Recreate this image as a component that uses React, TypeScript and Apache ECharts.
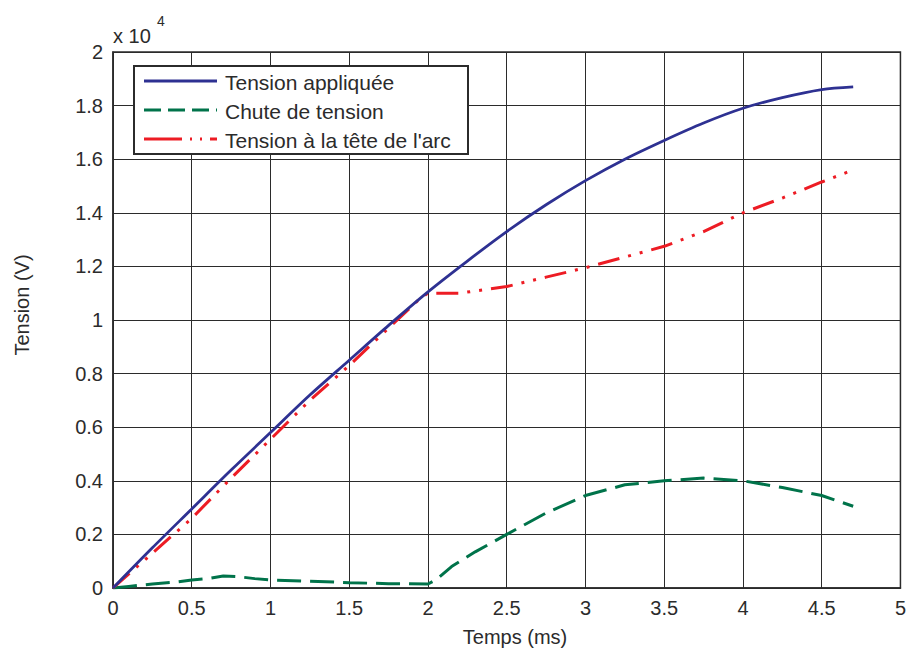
import React, { useEffect, useRef } from "react";
import * as echarts from "echarts";

const xTicks = [0, 0.5, 1, 1.5, 2, 2.5, 3, 3.5, 4, 4.5, 5];
const yTicks = [0, 0.2, 0.4, 0.6, 0.8, 1, 1.2, 1.4, 1.6, 1.8, 2];

const seriesNames = ["Tension appliquée", "Chute de tension", "Tension à la tête de l'arc"];

const tApplied = [0, 0.25, 0.5, 0.75, 1, 1.25, 1.5, 1.75, 2, 2.25, 2.5, 2.75, 3, 3.25, 3.5, 3.75, 4, 4.25, 4.5, 4.7];
const vApplied = [0, 0.15, 0.295, 0.44, 0.58, 0.72, 0.85, 0.98, 1.105, 1.22, 1.33, 1.43, 1.52, 1.6, 1.67, 1.735, 1.79, 1.83, 1.86, 1.87];

const tDrop = [0, 0.1, 0.25, 0.4, 0.5, 0.6, 0.7, 0.8, 0.9, 1.0, 1.25, 1.5, 1.75, 2.0, 2.05, 2.15, 2.3, 2.5, 2.75, 3.0, 3.25, 3.5, 3.75, 4.0, 4.25, 4.5, 4.7];
const vDrop = [0, 0.006, 0.015, 0.022, 0.03, 0.035, 0.045, 0.042, 0.035, 0.03, 0.025, 0.02, 0.016, 0.015, 0.03, 0.08, 0.135, 0.2, 0.28, 0.345, 0.385, 0.4, 0.41, 0.4, 0.375, 0.345, 0.305];

const tArc = [0, 0.25, 0.5, 0.75, 1, 1.25, 1.5, 1.75, 1.95, 2.0, 2.1, 2.2, 2.5, 2.75, 3.0, 3.25, 3.5, 3.75, 4.0, 4.25, 4.5, 4.7];
const vArc = [0, 0.13, 0.26, 0.41, 0.555, 0.7, 0.83, 0.97, 1.08, 1.1, 1.1, 1.1, 1.125, 1.16, 1.195, 1.235, 1.275, 1.33, 1.4, 1.455, 1.515, 1.56];

const FONT = "'Liberation Sans', Arial, Helvetica, sans-serif";
const TXT = "#2b2b2b";
const BLUE = "#2e3192";
const GREEN = "#00734a";
const RED = "#ed1c24";
const GREEN_DASH = [24, 9];
const RED_DASH = [22, 9, 3, 9, 3, 9];

function pairs(t: number[], v: number[]) {
  return t.map((x, i) => [x, v[i]]);
}

export default function App() {
  const ref = useRef<HTMLDivElement>(null);
  useEffect(() => {
    if (!ref.current) return;
    const chart = echarts.init(ref.current, null, { renderer: "svg" });
    const legendRows = [81, 110, 139];
    const legendStyles = [
      { stroke: BLUE, lineWidth: 2.8 },
      { stroke: GREEN, lineWidth: 3, lineDash: [17, 7] },
      { stroke: RED, lineWidth: 3, lineDash: [38, 8, 2, 8, 2, 8] },
    ];
    const legendGraphics: any[] = [
      {
        type: "rect",
        shape: { x: 134, y: 66, width: 334, height: 88 },
        style: { fill: "#ffffff", stroke: "#2b2b2b", lineWidth: 2 },
        z: 100,
      },
    ];
    seriesNames.forEach((name, i) => {
      legendGraphics.push({
        type: "line",
        shape: { x1: 144, y1: legendRows[i], x2: 217, y2: legendRows[i] },
        style: legendStyles[i],
        z: 101,
      });
      legendGraphics.push({
        type: "text",
        x: 225,
        y: legendRows[i] + 1,
        style: { text: name, fill: TXT, font: `21px ${FONT}`, verticalAlign: "middle" },
        z: 101,
      });
    });

    chart.setOption({
      animation: false,
      backgroundColor: "#ffffff",
      grid: {
        left: 113,
        right: 5,
        top: 52,
        bottom: 61,
        show: true,
        borderColor: "#2b2b2b",
        borderWidth: 1.5,
      },
      xAxis: {
        type: "value",
        min: 0,
        max: 5,
        interval: 0.5,
        axisLine: { show: true, lineStyle: { color: "#2b2b2b", width: 1.5 } },
        axisTick: { show: false },
        splitLine: { show: true, lineStyle: { color: "#2b2b2b", width: 1 } },
        axisLabel: {
          color: TXT,
          fontFamily: FONT,
          fontSize: 20,
          margin: 10,
          formatter: (v: number) => String(v),
        },
      },
      yAxis: {
        type: "value",
        min: 0,
        max: 2,
        interval: 0.2,
        axisLine: { show: true, lineStyle: { color: "#2b2b2b", width: 1.5 } },
        axisTick: { show: false },
        splitLine: { show: true, lineStyle: { color: "#2b2b2b", width: 1 } },
        axisLabel: {
          color: TXT,
          fontFamily: FONT,
          fontSize: 20,
          margin: 10,
          formatter: (v: number) => String(Math.round(v * 10) / 10),
        },
      },
      graphic: [
        {
          type: "text",
          x: 113,
          y: 36,
          style: { text: "x 10", fill: TXT, font: `20px ${FONT}`, verticalAlign: "middle" },
        },
        {
          type: "text",
          x: 157,
          y: 21,
          style: { text: "4", fill: TXT, font: `14px ${FONT}`, verticalAlign: "middle" },
        },
        {
          type: "text",
          x: 515,
          y: 637,
          style: { text: "Temps (ms)", fill: TXT, font: `20px ${FONT}`, align: "center", verticalAlign: "middle" },
        },
        {
          type: "text",
          x: 22,
          y: 305,
          rotation: Math.PI / 2,
          style: { text: "Tension (V)", fill: TXT, font: `20px ${FONT}`, align: "center", verticalAlign: "middle" },
        },
        ...legendGraphics,
      ],
      series: [
        {
          name: seriesNames[0],
          type: "line",
          data: pairs(tApplied, vApplied),
          showSymbol: false,
          symbol: "none",
          smooth: 0.3,
          lineStyle: { color: BLUE, width: 2.8 },
          itemStyle: { color: BLUE },
          z: 3,
        },
        {
          name: seriesNames[1],
          type: "line",
          data: pairs(tDrop, vDrop),
          showSymbol: false,
          symbol: "none",
          lineStyle: { color: GREEN, width: 3, type: GREEN_DASH },
          itemStyle: { color: GREEN },
          z: 2,
        },
        {
          name: seriesNames[2],
          type: "line",
          data: pairs(tArc, vArc),
          showSymbol: false,
          symbol: "none",
          lineStyle: { color: RED, width: 3, type: RED_DASH },
          itemStyle: { color: RED },
          z: 2,
        },
      ],
    });
    return () => chart.dispose();
  }, []);
  return <div ref={ref} style={{ width: 909, height: 649, position: "absolute", left: 0, top: 0 }} />;
}
